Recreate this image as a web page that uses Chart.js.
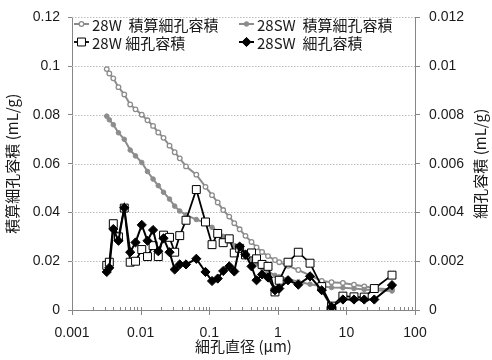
<!DOCTYPE html>
<html lang="ja">
<head>
<meta charset="UTF-8">
<title>細孔分布</title>
<script src="https://cdn.jsdelivr.net/npm/chart.js@4.4.1/dist/chart.umd.min.js"></script>
<style>
  body { margin: 0; background: #fff; }
  #wrap { width: 492px; height: 360px; }
</style>
</head>
<body>
<div id="wrap"><canvas id="poreChart" width="492" height="360"></canvas></div>
<script>
// pore diameter (µm)
const diameters = [0.00321, 0.0035, 0.0040, 0.00476, 0.00578, 0.00705, 0.00843, 0.0104, 0.0126, 0.0152,
  0.0181, 0.0216, 0.0264, 0.0314, 0.0372, 0.0459, 0.0649, 0.0883, 0.110, 0.133,
  0.160, 0.196, 0.232, 0.278, 0.338, 0.414, 0.49, 0.59, 0.72, 0.91,
  1.05, 1.41, 1.99, 2.95, 4.37, 6.07, 8.89, 12.9, 18.2, 25.5, 46.2];

// cumulative pore volume (mL/g), left axis
const cum28W = [0.0988, 0.0970, 0.0950, 0.0914, 0.0884, 0.0843, 0.0823, 0.0801, 0.0778, 0.0755,
  0.0728, 0.0706, 0.0674, 0.0647, 0.0622, 0.0589, 0.0555, 0.0505, 0.0471, 0.0441,
  0.0410, 0.0383, 0.0356, 0.0331, 0.0304, 0.0279, 0.0257, 0.0238, 0.0221, 0.0205,
  0.0196, 0.0181, 0.0164, 0.0142, 0.0119, 0.0114, 0.0111, 0.0104, 0.0097, 0.0089, 0.0084];
const cum28SW = [0.0795, 0.0780, 0.0760, 0.0727, 0.0700, 0.0656, 0.0632, 0.0605, 0.0568, 0.0537,
  0.0510, 0.0483, 0.0455, 0.0426, 0.0406, 0.0390, 0.0371, 0.0357, 0.0339, 0.0321,
  0.0302, 0.0282, 0.0264, 0.0246, 0.0229, 0.0209, 0.0190, 0.0171, 0.0158, 0.0142,
  0.0136, 0.0127, 0.0116, 0.0106, 0.0097, 0.0092, 0.0091, 0.0088, 0.0084, 0.0081, 0.0078];

// pore volume (mL/g), right axis
const vol28W = [0.00183, 0.00196, 0.00354, 0.0030, 0.00418, 0.00196, 0.0020, 0.00248, 0.00219, 0.00264,
  0.00219, 0.00307, 0.00298, 0.00237, 0.00305, 0.00368, 0.00494, 0.00361, 0.00268, 0.00314,
  0.00276, 0.00292, 0.00234, 0.00253, 0.00226, 0.00234, 0.0021, 0.00187, 0.00179, 0.00074,
  0.00122, 0.00196, 0.00237, 0.00192, 0.00096, 0.00016, 0.00057, 0.00054, 0.00053, 0.00088, 0.00143];
const vol28SW = [0.00156, 0.00173, 0.00332, 0.00284, 0.00419, 0.00237, 0.00277, 0.00349, 0.00284, 0.00328,
  0.00241, 0.00294, 0.00237, 0.00166, 0.00187, 0.00187, 0.0021, 0.00156, 0.00119, 0.00129,
  0.0016, 0.00179, 0.00158, 0.0026, 0.00227, 0.00179, 0.00122, 0.00146, 0.00133, 0.00081,
  0.00088, 0.00122, 0.00104, 0.00138, 0.00081, 0.00013, 0.00043, 0.00043, 0.00043, 0.00043, 0.00102];

const seriesNames = ['28W  積算細孔容積', '28SW  積算細孔容積', '28W 細孔容積', '28SW  細孔容積'];
const leftTickLabels = ['0', '0.02', '0.04', '0.06', '0.08', '0.1', '0.12'];
const rightTickLabels = ['0', '0.002', '0.004', '0.006', '0.008', '0.01', '0.012'];
const xTickLabels = ['0.001', '0.01', '0.1', '1', '10', '100'];
const rightTitle = '細孔容積 (mL/g)';

const GREY = '#8c8c8c';
const AXIS = '#868686';
const TEXT = '#1a1a1a';
const JP = '"Noto Sans CJK JP", "Noto Sans", sans-serif';
const NUM = '"Liberation Sans", Arial, sans-serif';

function pts(ys) {
    return diameters.map((d, i) => ({ x: d, y: ys[i] }));
}

// draw one legend marker (line with symbol)
function legendMark(ctx, ds, x, y) {
    ctx.save();
    ctx.strokeStyle = ds.borderColor;
    ctx.lineWidth = ds.borderWidth;
    ctx.beginPath();
    ctx.moveTo(x, y);
    ctx.lineTo(x + 15, y);
    ctx.stroke();
    const cx = x + 7.5;
    const r = ds.pointRadius;
    ctx.fillStyle = ds.pointBackgroundColor;
    ctx.strokeStyle = ds.pointBorderColor;
    ctx.lineWidth = ds.pointBorderWidth;
    ctx.beginPath();
    if (ds.pointStyle === 'circle') {
        ctx.arc(cx, y, r, 0, Math.PI * 2);
    } else if (ds.pointStyle === 'rect') {
        const s = r * Math.SQRT1_2;
        ctx.rect(cx - s, y - s, 2 * s, 2 * s);
    } else {
        ctx.moveTo(cx - r, y); ctx.lineTo(cx, y - r); ctx.lineTo(cx + r, y); ctx.lineTo(cx, y + r); ctx.closePath();
    }
    ctx.fill();
    ctx.stroke();
    ctx.restore();
}

const extras = {
    id: 'extras',
    beforeDatasetsDraw(chart) {
        const { ctx, chartArea: a, scales } = chart;
        // dotted horizontal gridlines
        ctx.save();
        ctx.strokeStyle = '#bdbdbd';
        ctx.lineWidth = 1;
        ctx.setLineDash([1.5, 1.5]);
        scales.y.ticks.forEach(t => {
            if (t.value === 0) return;
            const y = Math.round(scales.y.getPixelForValue(t.value)) + 0.5;
            ctx.beginPath();
            ctx.moveTo(a.left, y);
            ctx.lineTo(a.right, y);
            ctx.stroke();
        });
        ctx.restore();
        // log tick marks on x axis: majors cross, minors inside
        ctx.save();
        ctx.strokeStyle = AXIS;
        ctx.lineWidth = 1;
        for (let e = -3; e <= 2; e++) {
            for (let m = 1; m <= 9; m++) {
                const v = m * Math.pow(10, e);
                if (v > 100.0001) break;
                const x = Math.round(scales.x.getPixelForValue(v)) + 0.5;
                ctx.beginPath();
                ctx.moveTo(x, a.bottom - 3);
                ctx.lineTo(x, m === 1 ? a.bottom + 5 : a.bottom);
                ctx.stroke();
            }
        }
        ctx.restore();
        // secondary axis title, rotated like the primary one
        ctx.save();
        ctx.font = '15px ' + JP;
        ctx.fillStyle = TEXT;
        ctx.textAlign = 'center';
        ctx.textBaseline = 'middle';
        ctx.translate(chart.width - 12, (a.top + a.bottom) / 2);
        ctx.rotate(-Math.PI / 2);
        ctx.fillText(rightTitle, 0, 0);
        ctx.restore();
    },
    afterDatasetsDraw(chart) {
        const { ctx } = chart;
        const ds = chart.data.datasets;
        const cols = [74, 239];
        const rows = [24, 42];
        ctx.save();
        ctx.font = '15px ' + JP;
        ctx.fillStyle = TEXT;
        ctx.textBaseline = 'middle';
        for (let i = 0; i < 4; i++) {
            const x = cols[i % 2];
            const y = rows[Math.floor(i / 2)];
            legendMark(ctx, ds[i], x, y);
            ctx.fillText(seriesNames[i], x + 18, y + 1);
        }
        ctx.restore();
    }
};

const ctx = document.getElementById('poreChart').getContext('2d');
new Chart(ctx, {
    type: 'line',
    data: {
        datasets: [
            {
                label: seriesNames[0], data: pts(cum28W), yAxisID: 'y', order: 4,
                borderColor: GREY, borderWidth: 2, pointStyle: 'circle', pointRadius: 2.3,
                pointBackgroundColor: '#ffffff', pointBorderColor: GREY, pointBorderWidth: 1.3
            },
            {
                label: seriesNames[1], data: pts(cum28SW), yAxisID: 'y', order: 3,
                borderColor: GREY, borderWidth: 2, pointStyle: 'circle', pointRadius: 2.3,
                pointBackgroundColor: GREY, pointBorderColor: GREY, pointBorderWidth: 1
            },
            {
                label: seriesNames[2], data: pts(vol28W), yAxisID: 'y1', order: 2,
                borderColor: '#000000', borderWidth: 1.8, pointStyle: 'rect', pointRadius: 5.6,
                pointBackgroundColor: '#ffffff', pointBorderColor: '#000000', pointBorderWidth: 1
            },
            {
                label: seriesNames[3], data: pts(vol28SW), yAxisID: 'y1', order: 1,
                borderColor: '#000000', borderWidth: 2, pointStyle: 'rectRot', pointRadius: 4.6,
                pointBackgroundColor: '#000000', pointBorderColor: '#000000', pointBorderWidth: 1
            }
        ]
    },
    options: {
        responsive: false,
        animation: false,
        events: [],
        layout: { padding: { top: 14, left: 0, right: 0, bottom: 0 } },
        plugins: { legend: { display: false }, tooltip: { enabled: false } },
        elements: { line: { tension: 0 } },
        scales: {
            x: {
                type: 'logarithmic', min: 0.001, max: 100,
                grid: { display: false },
                border: { color: AXIS, width: 1 },
                ticks: {
                    autoSkip: false, maxRotation: 0, padding: 7,
                    color: TEXT, font: { family: NUM, size: 14 },
                    callback: function(v) {
                        const k = Math.round(Math.log10(v)) + 3;
                        return Math.abs(Math.log10(v) - Math.round(Math.log10(v))) < 1e-6 ? xTickLabels[k] : '';
                    }
                },
                title: { display: true, text: '細孔直径 (μm)', color: TEXT, font: { family: JP, size: 15 }, padding: { top: 0, bottom: 5 } },
                afterFit(s) { s.height = 50; }
            },
            y: {
                position: 'left', min: 0, max: 0.12,
                grid: { drawOnChartArea: false, tickLength: 4, color: AXIS },
                border: { color: AXIS, width: 1 },
                ticks: {
                    stepSize: 0.02, padding: 8, color: TEXT, font: { family: NUM, size: 14 },
                    callback: (v, i) => leftTickLabels[i]
                },
                title: { display: true, text: '積算細孔容積 (mL/g)', color: TEXT, font: { family: JP, size: 15 }, padding: { top: 3, bottom: 0 } },
                afterFit(s) { s.width = 72; }
            },
            y1: {
                position: 'right', min: 0, max: 0.012,
                grid: { drawOnChartArea: false, tickLength: 5, color: AXIS },
                border: { color: AXIS, width: 1 },
                ticks: {
                    stepSize: 0.002, padding: 9, color: TEXT, font: { family: NUM, size: 14 },
                    callback: (v, i) => rightTickLabels[i]
                },
                afterFit(s) { s.width = 77; }
            }
        }
    },
    plugins: [extras]
});
</script>
</body>
</html>
